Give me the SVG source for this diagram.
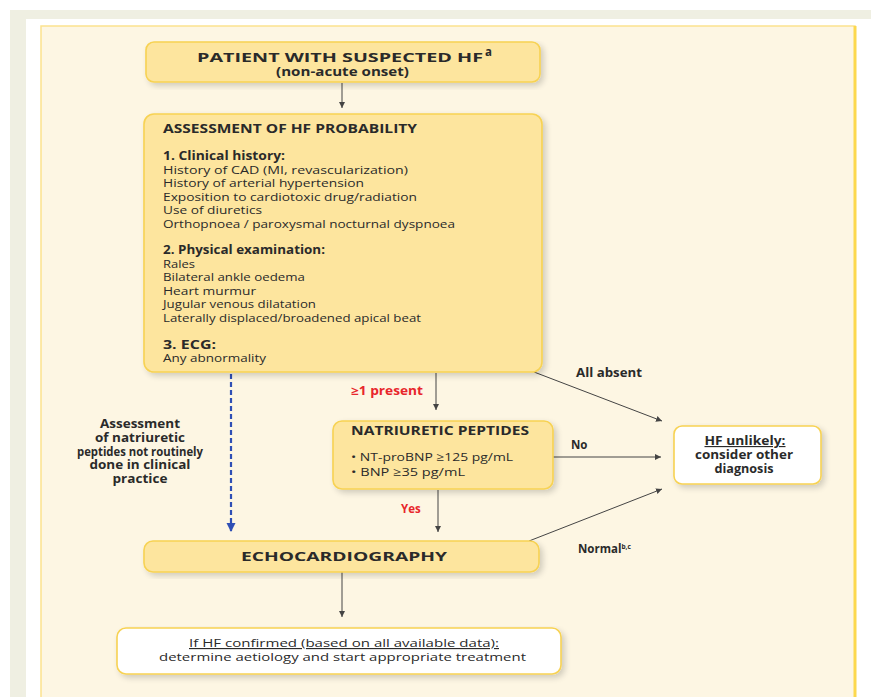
<svg xmlns="http://www.w3.org/2000/svg" width="871" height="697" viewBox="0 0 871 697">
<style>
text{font-family:"Open Sans","Liberation Sans",sans-serif;fill:#2a2a2a;font-size:11.5px}
.b{font-weight:bold}
.c{text-anchor:middle}
.red{fill:#e8262c;font-weight:bold}
.box{fill:#fde59e;stroke:#f7d253;stroke-width:1.6}
.wbox{fill:#ffffff;stroke:#f7d253;stroke-width:1.6}
.ln{stroke:#444;stroke-width:1;fill:none}
</style>
<defs>
<filter id="sh" x="-10%" y="-10%" width="125%" height="130%">
<feGaussianBlur in="SourceAlpha" stdDeviation="3"/>
<feOffset dx="3" dy="3" result="o"/>
<feComponentTransfer><feFuncA type="linear" slope="0.18"/></feComponentTransfer>
<feMerge><feMergeNode/><feMergeNode in="SourceGraphic"/></feMerge>
</filter>
<marker id="ah" viewBox="0 0 10 10" refX="10" refY="5" markerWidth="6" markerHeight="6" markerUnits="userSpaceOnUse" orient="auto">
<path d="M0,0 L10,5 L0,10 z" fill="#444"/>
</marker>
<marker id="bh" viewBox="0 0 10 10" refX="10" refY="5" markerWidth="9" markerHeight="10" markerUnits="userSpaceOnUse" orient="auto">
<path d="M0,0 L10,5 L0,10 z" fill="#2f4fb5"/>
</marker>
</defs>
<rect x="10" y="10" width="861" height="687" fill="#efefe2"/>
<rect x="26" y="19" width="845" height="678" fill="#ffffff"/>
<rect x="41" y="26" width="814" height="680" fill="#fdf6e3" stroke="#fbe28e" stroke-width="1.5"/>
<line x1="855" y1="26" x2="855" y2="697" stroke="#fcd84e" stroke-width="3"/>

<g id="connectors">
<line class="ln" x1="342" y1="83" x2="342" y2="108" marker-end="url(#ah)"/>
<line x1="231" y1="374" x2="231" y2="532" stroke="#2f4fb5" stroke-width="2.2" stroke-dasharray="5,3" marker-end="url(#bh)"/>
<line class="ln" x1="436" y1="373" x2="436" y2="410" marker-end="url(#ah)"/>
<line class="ln" x1="534" y1="372" x2="662" y2="421" marker-end="url(#ah)"/>
<line class="ln" x1="553" y1="457" x2="661" y2="457" marker-end="url(#ah)"/>
<line class="ln" x1="438" y1="490" x2="438" y2="532" marker-end="url(#ah)"/>
<line class="ln" x1="529" y1="541" x2="662" y2="489" marker-end="url(#ah)"/>
<line class="ln" x1="342" y1="572" x2="342" y2="617" marker-end="url(#ah)"/>
<text class="red" x="351" y="395" textLength="72" lengthAdjust="spacingAndGlyphs">≥1 present</text>
<text class="b" x="576" y="377" textLength="66" lengthAdjust="spacingAndGlyphs">All absent</text>
<text class="b" x="571" y="449">No</text>
<text class="red" x="401" y="513">Yes</text>
<text class="b" x="578" y="553">Normal<tspan font-size="6.5" dy="-4">b,c</tspan></text>
<g class="b">
<text class="c" x="140" y="428" textLength="80" lengthAdjust="spacingAndGlyphs">Assessment</text>
<text class="c" x="140" y="442" textLength="90" lengthAdjust="spacingAndGlyphs">of natriuretic</text>
<text class="c" x="140" y="455.5" textLength="126" lengthAdjust="spacingAndGlyphs">peptides not routinely</text>
<text class="c" x="140" y="469" textLength="101" lengthAdjust="spacingAndGlyphs">done in clinical</text>
<text class="c" x="140" y="482.5" textLength="55" lengthAdjust="spacingAndGlyphs">practice</text>
</g>
</g>

<g id="patient">
<rect class="box" x="146" y="42" width="394" height="40" rx="8" filter="url(#sh)"/>
<text class="b c" x="340" y="62" font-size="14" textLength="286" lengthAdjust="spacingAndGlyphs">PATIENT WITH SUSPECTED HF</text>
<text class="b" x="485" y="56" font-size="6">a</text>
<text class="b c" x="342.5" y="76" font-size="11.5" textLength="133" lengthAdjust="spacingAndGlyphs">(non-acute onset)</text>
</g>

<g id="assessment">
<rect class="box" x="144" y="114" width="398" height="258" rx="10" filter="url(#sh)"/>
<text class="b" x="163" y="133" textLength="254" lengthAdjust="spacingAndGlyphs">ASSESSMENT OF HF PROBABILITY</text>
<text class="b" x="163" y="160" textLength="122" lengthAdjust="spacingAndGlyphs">1. Clinical history:</text>
<text x="163" y="173.5" textLength="245" lengthAdjust="spacingAndGlyphs">History of CAD (MI, revascularization)</text>
<text x="163" y="187" textLength="201" lengthAdjust="spacingAndGlyphs">History of arterial hypertension</text>
<text x="163" y="200.5" textLength="254" lengthAdjust="spacingAndGlyphs">Exposition to cardiotoxic drug/radiation</text>
<text x="163" y="214" textLength="99" lengthAdjust="spacingAndGlyphs">Use of diuretics</text>
<text x="163" y="227.5" textLength="292" lengthAdjust="spacingAndGlyphs">Orthopnoea / paroxysmal nocturnal dyspnoea</text>
<text class="b" x="163" y="254" textLength="162" lengthAdjust="spacingAndGlyphs">2. Physical examination:</text>
<text x="163" y="267.5" textLength="32" lengthAdjust="spacingAndGlyphs">Rales</text>
<text x="163" y="281" textLength="142" lengthAdjust="spacingAndGlyphs">Bilateral ankle oedema</text>
<text x="163" y="294.5" textLength="93" lengthAdjust="spacingAndGlyphs">Heart murmur</text>
<text x="163" y="308" textLength="153" lengthAdjust="spacingAndGlyphs">Jugular venous dilatation</text>
<text x="163" y="321.5" textLength="258" lengthAdjust="spacingAndGlyphs">Laterally displaced/broadened apical beat</text>
<text class="b" x="163" y="348.5" textLength="53" lengthAdjust="spacingAndGlyphs">3. ECG:</text>
<text x="163" y="362" textLength="103" lengthAdjust="spacingAndGlyphs">Any abnormality</text>
</g>

<g id="natriuretic">
<rect class="box" x="333" y="421" width="220" height="68" rx="9" filter="url(#sh)"/>
<text class="b" x="351" y="435" textLength="178" lengthAdjust="spacingAndGlyphs">NATRIURETIC PEPTIDES</text>
<text x="351" y="461" textLength="162" lengthAdjust="spacingAndGlyphs">• NT-proBNP ≥125 pg/mL</text>
<text x="351" y="476" textLength="114" lengthAdjust="spacingAndGlyphs">• BNP  ≥35 pg/mL</text>
</g>

<g id="unlikely">
<rect class="wbox" x="674" y="426" width="147" height="58" rx="8" filter="url(#sh)"/>
<text class="b c" x="745" y="445" text-decoration="underline" textLength="81" lengthAdjust="spacingAndGlyphs">HF unlikely:</text>
<text class="b c" x="744" y="459" textLength="98" lengthAdjust="spacingAndGlyphs">consider other</text>
<text class="b c" x="744" y="472.5" textLength="59" lengthAdjust="spacingAndGlyphs">diagnosis</text>
</g>

<g id="echo">
<rect class="box" x="144" y="541" width="395" height="31" rx="9" filter="url(#sh)"/>
<text class="b c" x="344" y="561" font-size="15" textLength="206" lengthAdjust="spacingAndGlyphs">ECHOCARDIOGRAPHY</text>
</g>

<g id="confirmed">
<rect class="wbox" x="117" y="628" width="444" height="46" rx="9" filter="url(#sh)"/>
<text class="c" x="344" y="647" text-decoration="underline" textLength="310" lengthAdjust="spacingAndGlyphs">If HF confirmed (based on all available data):</text>
<text class="c" x="342.5" y="661" textLength="367" lengthAdjust="spacingAndGlyphs">determine aetiology and start appropriate treatment</text>
</g>
</svg>
